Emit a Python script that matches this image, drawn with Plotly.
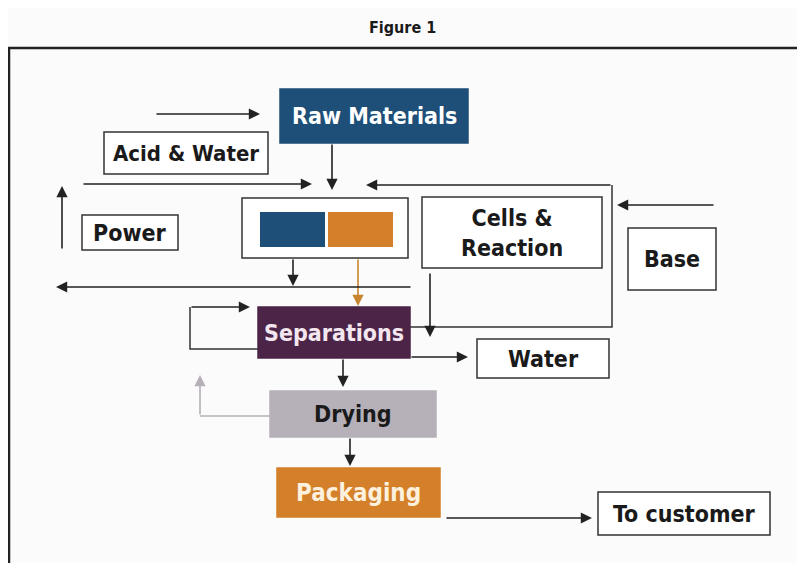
import plotly.graph_objects as go

# ---- diagram content ----
node_labels = ["Raw Materials", "Acid & Water", "Power", "Cells &<br>Reaction", "Base",
               "Separations", "Water", "Drying", "Packaging", "To customer"]
title_text = "Figure 1"

# ---- layout (pixel space, y downward) ----
W, H = 805, 563
OFF = 8  # page body margin
FONT = "DejaVu Sans Condensed"
BLUE = "#1d4f78"
ORANGE = "#d4802a"
PURPLE = "#4b2447"
GRAY = "#b6b0b8"
INK = "#1a1a1a"

boxes = {
    "Raw Materials": dict(x0=280, y0=89, x1=468, y1=143, fill=BLUE, line=BLUE, fc="white", fs=23),
    "Acid & Water": dict(x0=104, y0=132, x1=268, y1=174, fill="white", line="#333", fc=INK, fs=22),
    "Power": dict(x0=82, y0=215, x1=178, y1=250, fill="white", line="#333", fc=INK, fs=23),
    "Cells &<br>Reaction": dict(x0=422, y0=197, x1=602, y1=268, fill="white", line="#333", fc=INK, fs=23),
    "Base": dict(x0=628, y0=228, x1=716, y1=290, fill="white", line="#333", fc=INK, fs=23),
    "Separations": dict(x0=258, y0=307, x1=410, y1=358, fill=PURPLE, line=PURPLE, fc="#f3e6ef", fs=23),
    "Water": dict(x0=477, y0=339, x1=609, y1=378, fill="white", line="#333", fc=INK, fs=23),
    "Drying": dict(x0=270, y0=391, x1=436, y1=437, fill=GRAY, line=GRAY, fc=INK, fs=23),
    "Packaging": dict(x0=277, y0=468, x1=440, y1=517, fill=ORANGE, line=ORANGE, fc="#fdf0dc", fs=24),
    "To customer": dict(x0=598, y0=492, x1=770, y1=535, fill="white", line="#333", fc=INK, fs=23),
}

fig = go.Figure()
shapes = []
annotations = []

# outer frame
shapes.append(dict(type="path", path="M 9 565 L 9 48 L 810 48", line=dict(color="#222", width=2.5)))

# mixer box with two coloured blocks
shapes.append(dict(type="rect", x0=242, y0=198, x1=408, y1=258, line=dict(color="#333", width=1.5), fillcolor="white"))
shapes.append(dict(type="rect", x0=260, y0=212, x1=325, y1=247, line=dict(width=0), fillcolor=BLUE))
shapes.append(dict(type="rect", x0=328, y0=212, x1=393, y1=247, line=dict(width=0), fillcolor=ORANGE))

for lab in node_labels:
    b = boxes[lab]
    shapes.append(dict(type="rect", x0=b["x0"], y0=b["y0"], x1=b["x1"], y1=b["y1"],
                       line=dict(color=b["line"], width=1.5), fillcolor=b["fill"]))
    annotations.append(dict(x=(b["x0"] + b["x1"]) / 2, y=(b["y0"] + b["y1"]) / 2, text=lab,
                            showarrow=False, xref="x", yref="y",
                            font=dict(family=FONT, size=b["fs"], color=b["fc"], weight="bold"),
                            xanchor="center", yanchor="middle"))

# plain connector lines (no heads)
lines = [
    ("M 612 185 L 612 327 L 410 327", "#333"),      # loop from separations up to mixer
    ("M 258 349 L 190 349 L 190 307", "#333"),      # separations recycle loop
    ("M 270 416 L 200 416", GRAY),                   # drying recycle
]
for p, c in lines:
    shapes.append(dict(type="path", path=p, line=dict(color=c, width=1.5)))

# arrows: (tail_x, tail_y, head_x, head_y, colour)
arrows = [
    (155, 114, 260, 114, "#222"),
    (82, 184, 312, 184, "#222"),
    (332, 143, 332, 190, "#222"),
    (612, 185, 366, 185, "#222"),
    (62, 250, 62, 186, "#222"),
    (715, 205, 617, 205, "#222"),
    (293, 258, 293, 286, "#222"),
    (358, 258, 358, 306, "#c8842e"),
    (412, 287, 56, 287, "#222"),
    (430, 272, 430, 337, "#222"),
    (190, 307, 250, 307, "#222"),
    (410, 357, 468, 357, "#222"),
    (343, 358, 343, 387, "#222"),
    (200, 416, 200, 375, GRAY),
    (350, 437, 350, 466, "#222"),
    (445, 518, 592, 518, "#222"),
]
for tx, ty, hx, hy, c in arrows:
    annotations.append(dict(x=hx, y=hy, ax=tx, ay=ty, xref="x", yref="y", axref="x", ayref="y",
                            text="", showarrow=True, arrowhead=2, arrowsize=1.4, arrowwidth=1.6,
                            arrowcolor=c, standoff=0, startstandoff=0))

# title
annotations.append(dict(x=402, y=27, text=title_text, showarrow=False, xref="x", yref="y",
                        font=dict(family=FONT, size=16, color=INK, weight="bold"),
                        xanchor="center", yanchor="middle"))

fig.update_layout(
    width=W - OFF, height=H - OFF, margin=dict(l=0, r=0, t=0, b=0),
    paper_bgcolor="#fbfbfb", plot_bgcolor="#fbfbfb",
    xaxis=dict(range=[OFF, W], visible=False, fixedrange=True),
    yaxis=dict(range=[H, OFF], visible=False, fixedrange=True),
    shapes=shapes, annotations=annotations, showlegend=False,
)
fig.write_html("out.html")
